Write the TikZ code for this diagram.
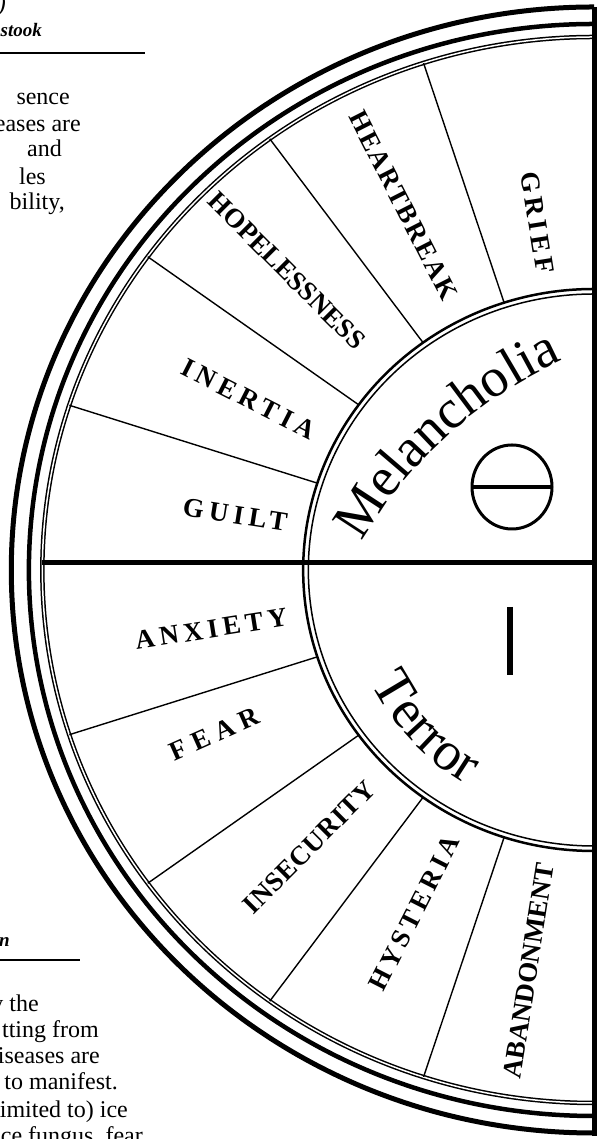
\documentclass[tikz,border=0pt]{standalone}
\usepackage{fontspec}
\setmainfont{Liberation Serif}
\usetikzlibrary{decorations.text}

\newcommand{\ringfont}{\fontsize{27}{27}\selectfont\bfseries}
\newcommand{\hubfont}{\fontsize{55}{55}\selectfont}
\newcommand{\bodyfont}{\fontsize{24}{26}\selectfont}

\begin{document}
\begin{tikzpicture}[
    x=1pt, y=1pt,
    % Estilos de la rueda
    ring/.style = {line width=5pt},
    hubline/.style = {line width=2.5pt},
    spoke/.style = {line width=1.4pt},
    ringtext/.style = {anchor=east, inner sep=0pt, rotate=#1-180, font=\ringfont},
    bodytext/.style = {anchor=base east, inner sep=0pt, font=\bodyfont},
    headrule/.style = {line width=2.5pt}
]
\useasboundingbox (0,0) rectangle (603,1139);
\clip (0,0) rectangle (603,1139);

% ===============================
% 1. Texto de la columna izquierda
% ===============================
\node (paren) [bodytext, font=\bodyfont\itshape] at (6,1127) {)};
\node (stook) [bodytext, font=\fontsize{19}{22}\selectfont\bfseries\itshape] at (42,1102) {stook};
\coordinate (ruleA) at (0,1086);
\draw [headrule] (ruleA) -- ++(145,0);

\node (lineA) [bodytext] at (70,1034) {sence};
\node (lineB) [bodytext] at (81,1007) {eases are};
\node (lineC) [bodytext] at (62,982) {and};
\node (lineD) [bodytext] at (46,954) {les};
\node (lineE) [bodytext] at (65,929) {bility,};

\node (endn) [bodytext, font=\fontsize{19}{22}\selectfont\bfseries\itshape] at (10,192) {n};
\coordinate (ruleB) at (0,179);
\draw [headrule] (ruleB) -- ++(80,0);

\node (lineF) [bodytext] at (39,127) {y the};
\node (lineG) [bodytext] at (99,101) {tting from};
\node (lineH) [bodytext] at (100,75) {liseases are};
\node (lineI) [bodytext] at (118,49) {y to manifest.};
\node (lineJ) [bodytext] at (128,21) {imited to) ice};
\node (lineK) [bodytext] at (143,-5) {ice fungus, fear};

% ===============================
% 2. Anillos y radios
% ===============================
\begin{scope}[shift={(594,569)}, xscale=1.035]
    \draw [ring] (0,563) arc [start angle=90, end angle=270, radius=563];
    \draw [ring, line width=4.5pt] (0,546) arc [start angle=90, end angle=270, radius=546];
    \draw [line width=1.5pt, double, double distance=1.5pt] (0,533) arc [start angle=90, end angle=270, radius=533];
    \draw [hubline] (0,281) arc [start angle=90, end angle=270, radius=281];
    \draw [line width=1.5pt] (0,276) arc [start angle=90, end angle=270, radius=276];

    \draw [line width=5pt] (-533,7) -- (0,7);
    \draw [line width=5.5pt] (0.5,563) -- (0.5,-566);

    \draw [spoke] (108:281) -- (108:533);
    \draw [spoke] (126:281) -- (126:533);
    \draw [spoke] (144:281) -- (144:533);
    \draw [spoke] (162:281) -- (162:533);
    \draw [spoke] (198:281) -- (198:533);
    \draw [spoke] (216:281) -- (216:533);
    \draw [spoke] (234:281) -- (234:533);
    \draw [spoke] (252:281) -- (252:533);

    % ===============================
    % 3. Etiquetas del anillo
    % ===============================
    \node (grief) [ringtext=99] at (99:300) {\addfontfeature{LetterSpace=16}GRIEF};
    \node (heartbreak) [ringtext=117] at (117:305) {\addfontfeature{LetterSpace=7}HEARTBREAK};
    \node (hopelessness) [ringtext=135] at (135:318) {HOPELESSNESS};
    \node (inertia) [ringtext=153] at (153:303) {\addfontfeature{LetterSpace=20}INERTIA};
    \node (guilt) [ringtext=171] at (171:300) {\addfontfeature{LetterSpace=19}GUILT};
    \node (anxiety) [ringtext=189] at (189:300) {\addfontfeature{LetterSpace=18}ANXIETY};
    \node (fear) [ringtext=204] at (204:355) {\addfontfeature{LetterSpace=27}FEAR};
    \node (insecurity) [ringtext=225] at (225:305) {\addfontfeature{LetterSpace=2}INSECURITY};
    \node (hysteria) [ringtext=243] at (243:300) {\addfontfeature{LetterSpace=15}HYSTERIA};
    \node (abandonment) [ringtext=261] at (261:297) {ABANDONMENT};
\end{scope}

% ===============================
% 4. Centro: humores y signos
% ===============================
\begin{scope}[shift={(594,569)}]
    \path [decorate, decoration={text along path, text align=left,
        text={|\hubfont|Melancholia}}]
        (-232,28) arc [start angle=150, end angle=95, radius=441];
    \path [decorate, decoration={text along path, text align=left,
        text={|\hubfont|Terror}}]
        (207:250) arc [start angle=207, end angle=262, radius=250];

    \draw [line width=3pt] (-82,83) ellipse [x radius=40, y radius=42];
    \draw [line width=4pt] (-122,83) -- (-42,83);
    \draw [line width=6pt] (-84,-37) -- (-84,-105);
\end{scope}

\end{tikzpicture}
\end{document}
